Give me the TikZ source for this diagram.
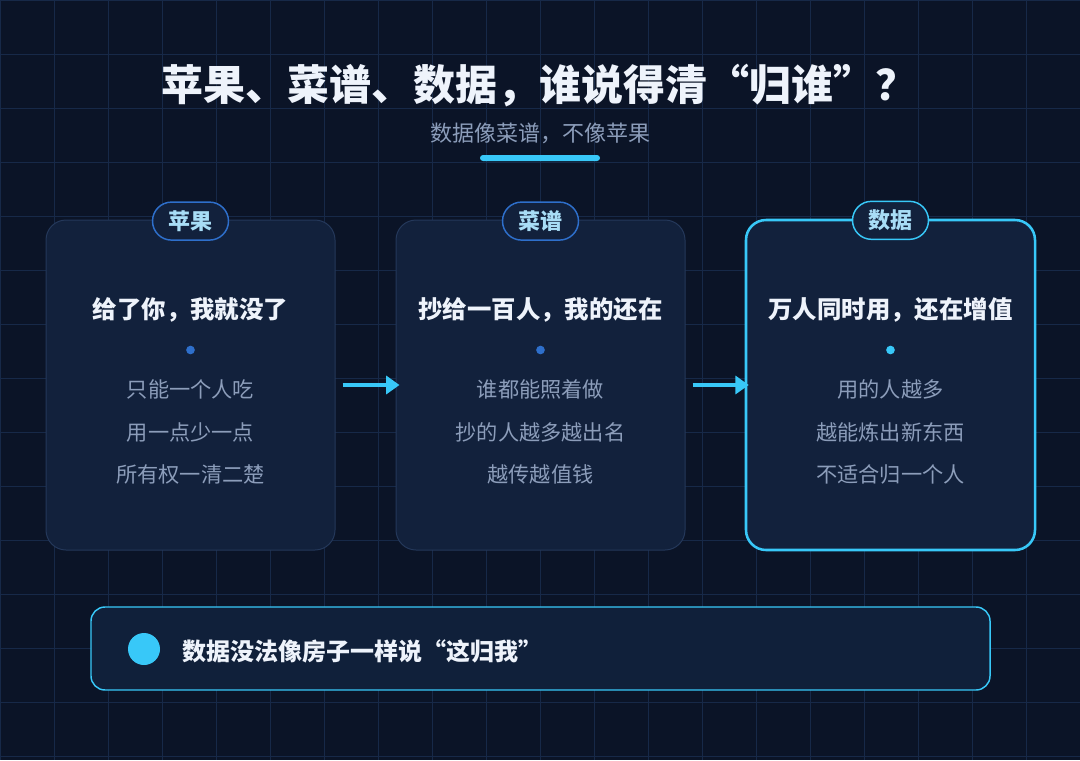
\documentclass[tikz,border=0pt]{standalone}
\usepackage{fontspec}
\setmainfont{Noto Sans CJK SC}
\usepackage{tikz}
\usetikzlibrary{arrows.meta, positioning}
\definecolor{bgnavy}{HTML}{0B1427}
\definecolor{gridnavy}{HTML}{172948}
\definecolor{cardnavy}{HTML}{12213C}
\definecolor{cardedge}{HTML}{24385A}
\definecolor{tagblue}{HTML}{2E6FCB}
\definecolor{datacyan}{HTML}{38C8F8}
\definecolor{tagtext}{HTML}{A8DDF6}
\definecolor{bodygrey}{HTML}{8C9DBA}
\definecolor{titlewhite}{HTML}{EEF3FB}
\definecolor{barnavy}{HTML}{10203A}

\begin{document}
\begin{tikzpicture}[x=0.75pt, y=-0.75pt,
                card/.style={draw=cardedge, line width=0.75pt, fill=cardnavy,
                             rounded corners=15pt, minimum width=216.75pt,
                             minimum height=247.5pt, inner sep=0pt},
                hotcard/.style={card, draw=datacyan, line width=1.9pt},
                tag/.style={draw=tagblue, line width=1.1pt, fill=cardnavy,
                            rounded corners=14.25pt, minimum width=57pt,
                            minimum height=28.5pt, inner sep=0pt, text=tagtext,
                            yshift=-1.2pt,
                            font=\fontsize{16.5}{16.5}\selectfont\bfseries},
                head/.style={text=titlewhite, inner sep=0pt,
                             font=\fontsize{18.3}{18.3}\selectfont\bfseries},
                body/.style={text=bodygrey, inner sep=0pt,
                             font=\fontsize{15.9}{15.9}\selectfont},
                dot/.style={circle, fill=tagblue, inner sep=0pt, minimum size=6.5pt},
                flow/.style={-{Triangle[length=10pt, width=13.5pt]}, line width=3pt,
                             draw=datacyan, shorten <=5.25pt, shorten >=-3pt},
                gridline/.style={draw=gridnavy, line width=0.75pt}]
                \useasboundingbox (0,0) rectangle (1080,760);
                \fill[bgnavy] (0,0) rectangle (1080,760);
                \foreach \gx in {0,54,...,1080}
                  \draw[gridline] (\gx,0) -- (\gx,760);
                \foreach \gy in {0,54,...,756}
                  \draw[gridline] (0,\gy) -- (1080,\gy);

                % heading
                \node[text=titlewhite, font=\fontsize{31.5}{31.5}\selectfont\bfseries]
                      (title) at (539,86) {苹果、菜谱、数据，谁说得清“归谁”？};
                \node[text=bodygrey, font=\fontsize{16.5}{16.5}\selectfont]
                      (subtitle) at (540,133) {数据像菜谱，不像苹果};
                \node[fill=datacyan, rounded corners=2.25pt, minimum width=90pt,
                      minimum height=4.5pt, inner sep=0pt] (rule) at (540,158) {};

                % three cards
                \node[card] (apple) at (190.5,385) {};
                \node[card] (recipe) at (540.5,385) {};
                \node[hotcard] (data) at (890.5,385) {};

                \node[tag] (appletag) at (apple.north) {苹果};
                \node[tag] (recipetag) at (recipe.north) {菜谱};
                \node[tag, draw=datacyan] (datatag) at (data.north) {数据};

                \node[head] (applehead) at (190.5,310) {给了你，我就没了};
                \node[dot] (appledot) at (190.5,350) {};
                \node[body] (apple1) at (190.5,389) {只能一个人吃};
                \node[body] (apple2) at (190.5,432) {用一点少一点};
                \node[body] (apple3) at (190.5,474) {所有权一清二楚};

                \node[head] (recipehead) at (540.5,310) {抄给一百人，我的还在};
                \node[dot] (recipedot) at (540.5,350) {};
                \node[body] (recipe1) at (540.5,389) {谁都能照着做};
                \node[body] (recipe2) at (540.5,432) {抄的人越多越出名};
                \node[body] (recipe3) at (540.5,474) {越传越值钱};

                \node[head] (datahead) at (890.5,310) {万人同时用，还在增值};
                \node[dot, fill=datacyan] (datadot) at (890.5,350) {};
                \node[body] (data1) at (890.5,389) {用的人越多};
                \node[body] (data2) at (890.5,432) {越能炼出新东西};
                \node[body] (data3) at (890.5,474) {不适合归一个人};

                \draw[flow] (apple) -- (recipe);
                \draw[flow] (recipe) -- (data);

                % verdict bar
                \node[draw=datacyan, line width=1.1pt, fill=barnavy, rounded corners=10.5pt,
                      minimum width=674.25pt, minimum height=62.25pt, inner sep=0pt]
                      (verdict) at (540.5,648.5) {};
                \node[circle, fill=datacyan, minimum size=24pt, inner sep=0pt]
                      (mark) at (144,649) {};
                \node[anchor=west, inner sep=0pt, text=titlewhite,
                      font=\fontsize{18}{18}\selectfont\bfseries]
                      (verdicttext) at (182,651) {数据没法像房子一样说“这归我”};
\end{tikzpicture}
\end{document}
